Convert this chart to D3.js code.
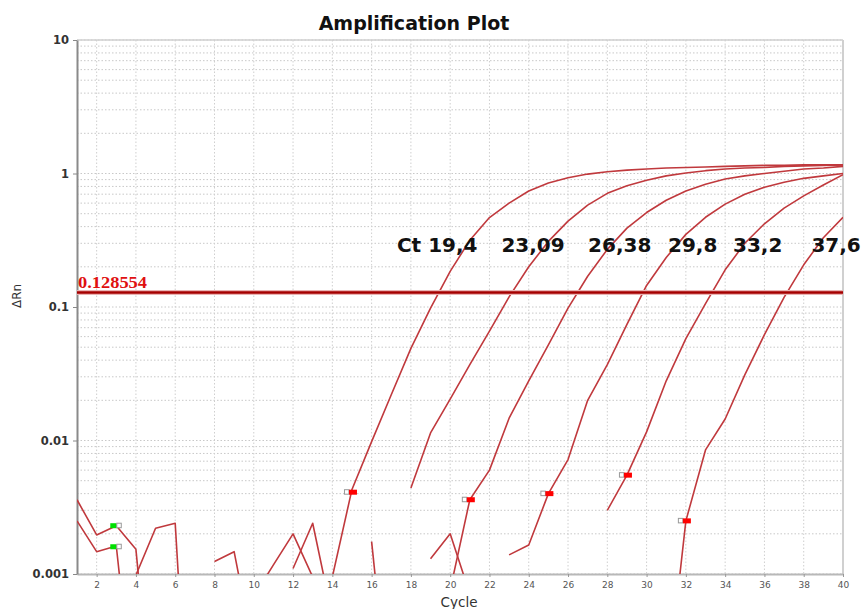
<!DOCTYPE html>
<html><head><meta charset="utf-8">
<script src="https://cdn.jsdelivr.net/npm/d3@7"></script>
<style>body{margin:0;background:#fff;} svg{display:block;}</style>
</head><body>
<svg id="chart" width="864" height="609"></svg>
<script>
// ---------- data ----------
const titleText = "Amplification Plot";
const xLabel = "Cycle";
const yLabel = "ΔRn";
const xTickValues = [2,4,6,8,10,12,14,16,18,20,22,24,26,28,30,32,34,36,38,40];
const yTickValues = [0.001,0.01,0.1,1,10];
const yTickLabels = ["0.001","0.01","0.1","1","10"];
const threshold = 0.128554;
const thresholdLabel = "0.128554";

// amplification curves: [cycle, ΔRn]
const curve1 = [[14,0.00095],[15,0.0043],[16,0.0098],[17,0.022],[18,0.049],[19,0.098],[20,0.185],[21,0.316],[22,0.468],[23,0.60],[24,0.74],[25,0.85],[26,0.93],[27,0.99],[28,1.03],[29,1.06],[30,1.08],[31,1.10],[32,1.11],[33,1.12],[34,1.13],[35,1.14],[36,1.15],[37,1.15],[38,1.16],[39,1.16],[40,1.16]];
const curve2 = [[18,0.0044],[19,0.0114],[20,0.0204],[21,0.037],[22,0.066],[23,0.119],[24,0.20],[25,0.31],[26,0.44],[27,0.58],[28,0.71],[29,0.81],[30,0.89],[31,0.96],[32,1.01],[33,1.05],[34,1.08],[35,1.10],[36,1.11],[37,1.13],[38,1.14],[39,1.15],[40,1.16]];
const curve3 = [[20,0.00076],[21,0.0036],[22,0.006],[23,0.0147],[24,0.028],[25,0.052],[26,0.098],[27,0.17],[28,0.27],[29,0.39],[30,0.51],[31,0.63],[32,0.74],[33,0.83],[34,0.91],[35,0.96],[36,1.0],[37,1.04],[38,1.08],[39,1.10],[40,1.13]];
const curve4 = [[23,0.00139],[24,0.00165],[25,0.0040],[26,0.0072],[27,0.020],[28,0.037],[29,0.074],[30,0.145],[31,0.235],[32,0.35],[33,0.47],[34,0.59],[35,0.70],[36,0.79],[37,0.86],[38,0.92],[39,0.96],[40,1.0]];
const curve5 = [[28,0.0030],[29,0.0055],[30,0.0116],[31,0.028],[32,0.058],[33,0.106],[34,0.19],[35,0.30],[36,0.42],[37,0.55],[38,0.68],[39,0.82],[40,0.98]];
const curve6 = [[31,0.00012],[32,0.0025],[33,0.0085],[34,0.0145],[35,0.031],[36,0.062],[37,0.118],[38,0.207],[39,0.33],[40,0.47]];

// baseline noise fragments: [cycle, ΔRn]
const noiseA = [[1,0.0036],[2,0.00196],[3,0.0023],[4,0.00153],[5,0.000044]];
const noiseB = [[4,0.00098],[5,0.0022],[6,0.0024],[7,0.000008]];
const noiseC = [[1,0.0025],[2,0.00147],[3,0.00162],[4,0.000072]];
const noiseD = [[8,0.00124],[9,0.00147],[10,0.00026]];
const noiseE = [[10,0.00068],[11,0.00117],[12,0.0020],[13,0.00095]];
const noiseF = [[12,0.0011],[13,0.0024],[14,0.00048]];
const noiseG = [[16,0.00175],[17,0.000066]];
const noiseH = [[19,0.0013],[20,0.0020],[21,0.00071]];

// Ct markers and baseline markers: [cycle, ΔRn]
const ctMarkers = [[15,0.0041],[21,0.0036],[25,0.0040],[29,0.0055],[32,0.0025]];
const baseMarkers = [[3,0.0023],[3,0.0016]];

// Ct annotations
const ctLabels = ["Ct 19,4","23,09","26,38","29,8","33,2","37,6"];
const ctLabelCycles = [17.29,22.61,27.02,31.09,34.40,38.39];
const ctLabelLevel = 0.26;

// ---------- drawing ----------
const W = 864, H = 609;
const margin = {top:40, right:21, bottom:35, left:77};
const svg = d3.select("#chart");
const x = d3.scaleLinear().domain([1,40]).range([margin.left, W - margin.right]);
const y = d3.scaleLog().domain([0.001,10]).range([H - margin.bottom, margin.top]);

svg.append("rect").attr("width",W).attr("height",H).attr("fill","#fff");

svg.append("defs").append("clipPath").attr("id","plotclip")
  .append("rect").attr("x",x(1)).attr("y",y(10)).attr("width",x(40)-x(1)).attr("height",y(0.001)-y(10));

const grid = svg.append("g");
grid.selectAll("line.h").data(y.ticks()).join("line")
  .attr("x1",x(1)).attr("x2",x(40))
  .attr("y1",d=>y(d)).attr("y2",d=>y(d))
  .attr("stroke","#c8c8c8").attr("stroke-width",1).attr("stroke-dasharray","1.5,2");
grid.selectAll("line.v").data(xTickValues.filter(d=>d<40)).join("line")
  .attr("x1",d=>x(d)).attr("x2",d=>x(d))
  .attr("y1",y(10)).attr("y2",y(0.001))
  .attr("stroke","#cfcfcf").attr("stroke-width",1).attr("stroke-dasharray","1.5,2");

svg.append("line").attr("x1",x(1)).attr("x2",x(40)).attr("y1",y(10)).attr("y2",y(10))
  .attr("stroke","#d0d0d0").attr("stroke-width",1.5);
svg.append("line").attr("x1",x(40)).attr("x2",x(40)).attr("y1",y(10)).attr("y2",y(0.001))
  .attr("stroke","#d0d0d0").attr("stroke-width",2);

const xAxis = svg.append("g").attr("transform",`translate(0,${y(0.001)})`)
  .call(d3.axisBottom(x).tickValues(xTickValues).tickSize(3).tickSizeOuter(0));
xAxis.select(".domain").attr("stroke","#b8b8b8").attr("stroke-width",2);
xAxis.selectAll(".tick line").attr("stroke","#999");
xAxis.selectAll(".tick text").attr("font-family","DejaVu Sans, sans-serif").attr("font-size",9)
  .attr("fill","#555").attr("dy","0.9em");

const yAxis = svg.append("g").attr("transform",`translate(${x(1)},0)`)
  .call(d3.axisLeft(y).tickValues(yTickValues).tickFormat((d,i)=>yTickLabels[i]).tickSize(4).tickSizeOuter(0));
yAxis.select(".domain").attr("stroke","#8a8a8a").attr("stroke-width",2);
yAxis.selectAll(".tick line").attr("stroke","#888");
yAxis.selectAll(".tick text").attr("font-family","DejaVu Sans, sans-serif").attr("font-size",11.5)
  .attr("font-weight","bold").attr("fill","#333").attr("x",-8);

// curves
const line = d3.line().x(d=>x(d[0])).y(d=>y(d[1]));
const plot = svg.append("g").attr("clip-path","url(#plotclip)");
plot.selectAll("path.curve").data([noiseA,noiseB,noiseC,noiseD,noiseE,noiseF,noiseG,noiseH,curve1,curve2,curve3,curve4,curve5,curve6]).join("path")
  .attr("class","curve").attr("d",line).attr("fill","none")
  .attr("stroke","#c0393d").attr("stroke-width",1.6).attr("stroke-linejoin","round");

// threshold line
svg.append("line").attr("x1",x(1)).attr("x2",x(40)).attr("y1",y(threshold)).attr("y2",y(threshold))
  .attr("stroke","#e9b4b4").attr("stroke-width",5);
svg.append("line").attr("x1",x(1)).attr("x2",x(40)).attr("y1",y(threshold)).attr("y2",y(threshold))
  .attr("stroke","#a50000").attr("stroke-width",2.5);
svg.append("text").attr("x",x(1)+1).attr("y",y(threshold)-4)
  .attr("font-family","Liberation Serif, serif").attr("font-weight","bold").attr("font-size",16)
  .attr("fill","#e01010").attr("textLength",69).attr("lengthAdjust","spacingAndGlyphs")
  .text(thresholdLabel);

// markers
const mk = svg.append("g");
ctMarkers.forEach(d=>{
  const cx = x(d[0]), cy = y(d[1]);
  mk.append("rect").attr("x",cx-7.5).attr("y",cy-2.5).attr("width",4.5).attr("height",4.5)
    .attr("fill","#fff").attr("stroke","#999").attr("stroke-width",1);
  mk.append("rect").attr("x",cx-3).attr("y",cy-2.5).attr("width",8).attr("height",5).attr("fill","#ff0000");
});
baseMarkers.forEach(d=>{
  const cx = x(d[0]), cy = y(d[1]);
  mk.append("rect").attr("x",cx-6).attr("y",cy-2.5).attr("width",6.5).attr("height",5).attr("fill","#00e000");
  mk.append("rect").attr("x",cx+0.5).attr("y",cy-2.5).attr("width",4.5).attr("height",4.5)
    .attr("fill","#fff").attr("stroke","#999").attr("stroke-width",1);
});

// Ct labels
svg.append("g").selectAll("text").data(ctLabels).join("text")
  .attr("x",(d,i)=>x(ctLabelCycles[i])).attr("y",y(ctLabelLevel))
  .attr("font-family","DejaVu Sans, sans-serif").attr("font-weight","bold").attr("font-size",20)
  .attr("fill","#111").text(d=>d);

// title and axis labels
svg.append("text").attr("x",414).attr("y",30).attr("text-anchor","middle")
  .attr("font-family","DejaVu Sans, sans-serif").attr("font-weight","bold").attr("font-size",19)
  .attr("fill","#111").text(titleText);
svg.append("text").attr("x",459).attr("y",607).attr("text-anchor","middle")
  .attr("font-family","DejaVu Sans, sans-serif").attr("font-size",13.5).attr("fill","#333").text(xLabel);
svg.append("text").attr("transform","translate(21,296) rotate(-90)").attr("text-anchor","middle")
  .attr("font-family","DejaVu Sans, sans-serif").attr("font-size",12).attr("fill","#333").text(yLabel);
</script>
</body></html>
